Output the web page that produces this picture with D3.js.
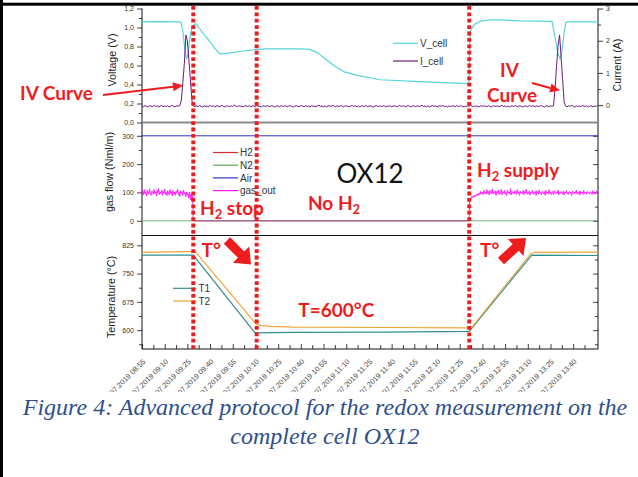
<!DOCTYPE html>
<html>
<head>
<meta charset="utf-8">
<title>OX12 redox protocol</title>
<script src="https://cdn.jsdelivr.net/npm/d3@7/dist/d3.min.js"></script>
<style>
  html, body { margin: 0; padding: 0; background: #fff; }
  svg { display: block; }
</style>
</head>
<body>
<svg id="fig" width="638" height="477"></svg>
<script>
// ---------- data: every series is indexed by minutes after 08:55 ----------
const startClock = [8, 55];
const endMinute = 301.4;

// x axis tick labels, one every 15 minutes
const xTickClock = ["08:55","09:10","09:25","09:40","09:55","10:10","10:25","10:40","10:55","11:10",
                    "11:25","11:40","11:55","12:10","12:25","12:40","12:55","13:10","13:25","13:40"];
const xTickDatePrefix = "07.2019 ";

// protocol events (minutes): H2 stop, end of cool-down, H2 supply again
const eventMinutes = [33.9, 75.8, 216.3];

// cell voltage [minute, V]
const vCell = [[0,1.06],[10,1.062],[20,1.06],[25.8,1.06],[27.1,0.95],[28.4,0.76],[29.5,0.67],[30.4,0.72],
  [31.7,0.9],[33,1.0],[34.4,1.03],[35.7,1.04],[37.5,1.0],[40.3,0.94],[44.9,0.85],[48.2,0.78],[50.9,0.73],
  [52.2,0.722],[60,0.735],[68,0.755],[75.3,0.768],[81.3,0.774],[104.4,0.775],[111,0.77],[116.3,0.73],
  [121,0.67],[127.6,0.59],[134.2,0.53],[144.1,0.49],[157.3,0.45],[183.7,0.43],[214.1,0.41],[216.1,0.41],
  [216.8,0.95],[219.4,1.03],[223.4,1.065],[230,1.08],[236.6,1.08],[249.8,1.07],[271,1.065],[273,0.9],
  [275,0.72],[276.3,0.67],[277.6,0.75],[279,0.95],[280.3,1.06],[301.4,1.06]];

// cell current [A], one sample per minute from minute 0
const iCell = [
  -0.03,-0.05,-0.01,-0.04,-0.06,-0.02,-0.03,-0.05,0.00,-0.04,-0.02,-0.06,-0.03,-0.01,-0.05,-0.03,-0.04,-0.02,-0.06,-0.03,
  -0.01,-0.04,-0.05,-0.02,-0.03,-0.02,
  0.15,0.7,1.3,2.18,2.0,1.4,0.8,0.15,
  -0.03,
  -0.04,-0.02,-0.05,-0.01,-0.03,-0.06,-0.02,-0.04,-0.03,-0.05,
  -0.01,-0.04,-0.02,-0.06,-0.03,-0.02,-0.05,-0.03,-0.01,-0.04,
  -0.06,-0.02,-0.03,-0.05,-0.02,-0.04,0.00,-0.03,-0.05,-0.02,
  -0.04,-0.03,-0.06,-0.01,-0.03,-0.04,-0.02,-0.05,-0.03,-0.02,
  -0.05,-0.01,-0.04,-0.03,-0.06,-0.02,-0.03,-0.04,-0.01,-0.05,
  -0.03,-0.02,-0.04,-0.06,-0.02,-0.03,-0.05,-0.01,-0.04,-0.03,
  -0.02,-0.05,-0.03,-0.01,-0.04,-0.06,-0.03,-0.02,-0.04,-0.05,
  -0.01,-0.03,-0.05,-0.02,-0.04,-0.03,-0.06,-0.02,-0.03,-0.04,
  -0.05,-0.02,-0.01,-0.04,-0.03,-0.05,-0.02,-0.06,-0.03,-0.02,
  -0.04,-0.01,-0.03,-0.05,-0.02,-0.04,-0.03,-0.01,-0.06,-0.03,
  -0.02,-0.04,-0.05,-0.03,-0.01,-0.04,-0.02,-0.05,-0.03,-0.06,
  -0.02,-0.03,-0.04,-0.01,-0.05,-0.03,-0.02,-0.04,-0.06,-0.03,
  -0.01,-0.05,-0.02,-0.04,-0.03,-0.02,-0.05,-0.03,-0.04,-0.01,
  -0.06,-0.03,-0.02,-0.04,-0.05,-0.01,-0.03,-0.04,-0.02,-0.05,
  -0.03,-0.01,-0.04,-0.06,-0.02,-0.03,-0.05,-0.02,-0.04,-0.03,
  -0.01,-0.04,-0.03,-0.05,-0.02,-0.06,-0.03,-0.01,-0.04,-0.02,
  -0.05,-0.03,-0.02,-0.04,-0.01,-0.05,-0.03,-0.06,-0.02,-0.04,
  -0.03,-0.02,-0.05,-0.01,-0.04,-0.03,-0.02,-0.06,-0.03,-0.05,
  -0.02,-0.04,-0.01,-0.03,-0.05,-0.02,-0.04,-0.03,-0.06,-0.01,
  -0.04,-0.02,-0.03,-0.05,-0.01,-0.04,-0.06,-0.02,-0.03,-0.04,
  -0.02,-0.05,-0.03,-0.01,-0.04,-0.02,-0.05,-0.03,-0.06,-0.02,
  -0.03,-0.04,-0.01,-0.05,-0.02,-0.03,-0.04,-0.06,-0.02,-0.03,
  -0.05,-0.01,-0.04,-0.02,-0.03,-0.05,-0.02,-0.04,-0.03,-0.01,
  -0.04,-0.06,-0.02,-0.03,-0.05,-0.02,-0.04,
  -0.02,
  0.5,1.2,1.85,2.18,1.5,0.8,0.1,
  -0.03,-0.05,-0.02,-0.04,-0.01,-0.03,-0.06,-0.02,-0.04,-0.03,-0.05,-0.01,-0.03,-0.04,-0.02,-0.06,
  -0.03,-0.02,-0.05,-0.03,-0.04,-0.02];

// gas flows [Nml/min]
const airFlow = [[0,300],[301.4,300]];
const n2Flow  = [[0,0],[301.4,0]];
const h2Flow  = [[33.9,0],[216.3,0]];
// outlet gas: 0.5-minute samples before H2 stop, zero while H2 is off, 0.5-minute samples after re-supply
const gasOutBefore = [
  98,106,91,110,95,102,87,108,99,93,113,96,90,105,101,94,110,95,103,88,
  107,97,114,92,101,95,109,90,104,97,111,93,100,89,106,99,92,110,96,103,
  88,107,95,101,90,105,98,112,92,100,86,106,97,103,89,108,94,99,85,102,
  91,96,80,101,74,95,70,88];
const gasOutOff = [[33.9,0],[216.3,0]];
const gasOutAfter = [
  72,80,78,86,82,88,84,91,86,93, 89,96,90,99,93,104,95,100,92,108,
  97,101,94,110,96,103,91,107,99,95, 112,94,101,97,106,90,104,98,109,93,
  100,96,111,92,103,99,107,94,101,89, 108,97,102,95,113,91,104,98,100,94,
  106,99,93,110,96,102,90,105,97,101, 95,108,92,103,98,111,94,100,96,105,
  91,102,99,107,93,100,97,104,89,106, 98,94,109,96,101,92,105,99,95,103,
  90,107,97,100,94,110,96,102,93,99, 104,91,106,98,95,101,97,108,92,100,
  96,103,99,94,105,91,102,98,107,95, 100,93,104,97,101,89,106,99,95,102,
  97,108,94,100,96,103,91,105,98,101, 93,107,96,99,102,94,104,97,100,95,
  103,98,92,106,99,101,94,97,105,96, 100];
const gasOutStepMin = 0.5;
const gasOutAfterStart = 216.5;

// temperatures [minute, °C]
const t1 = [[0,799],[33.9,799],[74.7,593],[100,594],[160,595],[216.3,597],[257.6,799],[301.4,798]];
const t2 = [[0,806],[30,808],[35.3,808],[75.5,616],[79,612],[85,610],[100,608],[160,607],[216.3,606],
            [218.5,610],[257.0,803],[259,806],[301.4,807]];

// ---------- layout ----------
const svg = d3.select("#fig");
const X0 = 142, X1 = 598;
const P = { v: [122.5, 8.5], g: [235.5, 122.5], t: [349, 235.5] };
const C = {
  vcell: "#55d4dc", icell: "#6b1a7a", h2: "#d42a2a", n2: "#5fa85f", air: "#2a35c8",
  gasout: "#ff10ff", t1: "#318e8e", t2: "#f2a43a", red: "#ee1c1c", axis: "#111", text: "#333"
};
const axisFont = "'Liberation Sans', Arial, sans-serif";
const noteFont = "Lato, 'Open Sans', sans-serif";

const base = new Date(2019, 6, 17, startClock[0], startClock[1]);
const at = m => new Date(base.getTime() + m * 60000);
const clock = s => { const [h, m] = s.split(":").map(Number); return (h - startClock[0]) * 60 + (m - startClock[1]); };

const x = d3.scaleTime().domain([at(0), at(endMinute)]).range([X0, X1]);
const yV = d3.scaleLinear().domain([0, 1.2]).range(P.v);
const yI = d3.scaleLinear().domain([-0.54, 3]).range(P.v);
const yG = d3.scaleLinear().domain([-52, 347]).range(P.g);
const yT = d3.scaleLinear().domain([550, 851]).range(P.t);

// frame of the figure
svg.append("rect").attr("x", 0).attr("y", 0).attr("width", 3).attr("height", 477).attr("fill", "#000");
svg.append("rect").attr("x", 0).attr("y", 2.7).attr("width", 638).attr("height", 3).attr("fill", "#000");

// clip paths for the three panels
const defs = svg.append("defs");
[["clipV", P.v], ["clipG", P.g], ["clipT", P.t]].forEach(([id, r]) => {
  defs.append("clipPath").attr("id", id).append("rect")
    .attr("x", X0).attr("y", r[1]).attr("width", X1 - X0).attr("height", r[0] - r[1]);
});
defs.append("clipPath").attr("id", "clipLbl").append("rect")
  .attr("x", 0).attr("y", 349).attr("width", 638).attr("height", 43);

// ---------- axes ----------
function styleAxis(g) {
  g.select(".domain").remove();
  g.selectAll(".tick line").attr("stroke", C.axis).attr("stroke-width", 0.8);
  g.selectAll(".tick text").attr("fill", C.text).attr("font-family", axisFont).attr("font-size", 7);
}
const comma1 = d => d3.format(".1f")(d).replace(".", ",");

// voltage (left, top panel)
svg.append("g").attr("transform", `translate(${X0},0)`)
  .call(d3.axisLeft(yV).tickValues([0, 0.2, 0.4, 0.6, 0.8, 1.0, 1.2]).tickSize(5).tickSizeOuter(0).tickPadding(3).tickFormat(comma1))
  .call(styleAxis);
svg.append("g").attr("transform", `translate(${X0},0)`)
  .call(d3.axisLeft(yV).tickValues([0.1, 0.3, 0.5, 0.7, 0.9, 1.1]).tickSize(3).tickSizeOuter(0).tickFormat(""))
  .call(styleAxis);
// current (right, top panel)
svg.append("g").attr("transform", `translate(${X1},0)`)
  .call(d3.axisRight(yI).tickValues([0, 1, 2, 3]).tickSize(5).tickSizeOuter(0).tickPadding(3).tickFormat(d3.format("d")))
  .call(styleAxis);
svg.append("g").attr("transform", `translate(${X1},0)`)
  .call(d3.axisRight(yI).tickValues([0.5, 1.5, 2.5]).tickSize(3).tickSizeOuter(0).tickFormat(""))
  .call(styleAxis);
// gas flow (left, mirrored inside on the right)
svg.append("g").attr("transform", `translate(${X0},0)`)
  .call(d3.axisLeft(yG).tickValues([0, 100, 200, 300]).tickSize(5).tickSizeOuter(0).tickPadding(3))
  .call(styleAxis);
svg.append("g").attr("transform", `translate(${X0},0)`)
  .call(d3.axisLeft(yG).tickValues([50, 150, 250]).tickSize(3).tickSizeOuter(0).tickFormat(""))
  .call(styleAxis);
svg.append("g").attr("transform", `translate(${X1},0)`)
  .call(d3.axisRight(yG).tickValues([0, 100, 200, 300]).tickSize(-5).tickSizeOuter(0).tickFormat(""))
  .call(styleAxis);
svg.append("g").attr("transform", `translate(${X1},0)`)
  .call(d3.axisRight(yG).tickValues([50, 150, 250]).tickSize(-3).tickSizeOuter(0).tickFormat(""))
  .call(styleAxis);
// temperature (left, mirrored inside on the right)
svg.append("g").attr("transform", `translate(${X0},0)`)
  .call(d3.axisLeft(yT).tickValues([600, 675, 750, 825]).tickSize(5).tickSizeOuter(0).tickPadding(3))
  .call(styleAxis);
svg.append("g").attr("transform", `translate(${X0},0)`)
  .call(d3.axisLeft(yT).tickValues([562.5, 637.5, 712.5, 787.5]).tickSize(3).tickSizeOuter(0).tickFormat(""))
  .call(styleAxis);
svg.append("g").attr("transform", `translate(${X1},0)`)
  .call(d3.axisRight(yT).tickValues([600, 675, 750, 825]).tickSize(-5).tickSizeOuter(0).tickFormat(""))
  .call(styleAxis);
svg.append("g").attr("transform", `translate(${X1},0)`)
  .call(d3.axisRight(yT).tickValues([562.5, 637.5, 712.5, 787.5]).tickSize(-3).tickSizeOuter(0).tickFormat(""))
  .call(styleAxis);

// time axis: ticks point up into the plot, labels rotated
const majorDates = xTickClock.map(s => at(clock(s)));
const minorDates = xTickClock.map(s => at(clock(s) + 7.5));
svg.append("g").attr("transform", `translate(0,${P.t[0]})`)
  .call(d3.axisBottom(x).tickValues(majorDates).tickSize(-5).tickSizeOuter(0).tickFormat(""))
  .call(styleAxis);
svg.append("g").attr("transform", `translate(0,${P.t[0]})`)
  .call(d3.axisBottom(x).tickValues(minorDates).tickSize(-4).tickSizeOuter(0).tickFormat(""))
  .call(styleAxis);
svg.append("g").attr("clip-path", "url(#clipLbl)")
  .selectAll("text").data(xTickClock).join("text")
  .attr("transform", s => `translate(${x(at(clock(s))) + 4},${P.t[0] + 13}) rotate(-45)`)
  .attr("text-anchor", "end").attr("font-family", axisFont).attr("font-size", 7.4).attr("fill", "#444")
  .text(s => xTickDatePrefix + s);

// panel frame lines
const frame = svg.append("g");
frame.append("line").attr("x1", X0).attr("x2", X0).attr("y1", P.v[1]).attr("y2", P.t[0]).attr("stroke", C.axis);
frame.append("line").attr("x1", X1).attr("x2", X1).attr("y1", P.v[1]).attr("y2", P.t[0]).attr("stroke", C.axis);
frame.append("line").attr("x1", X0).attr("x2", X1).attr("y1", P.t[0]).attr("y2", P.t[0]).attr("stroke", C.axis);
frame.append("line").attr("x1", X0).attr("x2", X1).attr("y1", P.g[0]).attr("y2", P.g[0]).attr("stroke", C.axis);
frame.append("line").attr("x1", X0).attr("x2", X1).attr("y1", P.v[0]).attr("y2", P.v[0]).attr("stroke", "#8a8a8a").attr("stroke-width", 2);

// axis titles
function vTitle(txt, cx, cy) {
  svg.append("text").attr("transform", `translate(${cx},${cy}) rotate(-90)`).attr("text-anchor", "middle")
    .attr("font-family", axisFont).attr("font-size", 10.7).attr("fill", "#222").text(txt);
}
vTitle("Voltage (V)", 116, 60);
vTitle("gas flow (Nml/m)", 113, 172);
vTitle("Temperature (°C)", 114.5, 297);
vTitle("Current (A)", 621, 65);

// ---------- series ----------
const lineOf = (y) => d3.line().x(d => x(at(d[0]))).y(d => y(d[1]));
function drawSeries(data, y, color, clip, w = 1, op = 1) {
  svg.append("path").attr("clip-path", `url(#${clip})`).attr("d", lineOf(y)(data))
    .attr("fill", "none").attr("stroke", color).attr("stroke-width", w).attr("stroke-opacity", op)
    .attr("stroke-linejoin", "round");
}
drawSeries(vCell, yV, C.vcell, "clipV", 1.2);
drawSeries(iCell.map((v, i) => [i, v]), yI, C.icell, "clipV", 1);

drawSeries(airFlow, yG, C.air, "clipG", 1);
drawSeries(h2Flow, yG, C.h2, "clipG", 1.2);
const gasOut = gasOutBefore.map((v, i) => [i * gasOutStepMin, v])
  .concat(gasOutOff, gasOutAfter.map((v, i) => [gasOutAfterStart + i * gasOutStepMin, v]));
drawSeries(gasOut, yG, C.gasout, "clipG", 0.9);
// N2 is drawn last and half transparent: where gas_out sits at zero the two blend
drawSeries(n2Flow, yG, C.n2, "clipG", 1.3, 0.55);

drawSeries(t1, yT, C.t1, "clipT", 1.2);
drawSeries(t2, yT, C.t2, "clipT", 1.2);

// ---------- legends ----------
function legend(items, x0, y0, dy, len) {
  items.forEach(([name, color], i) => {
    const yy = y0 + i * dy;
    svg.append("line").attr("x1", x0).attr("x2", x0 + len).attr("y1", yy).attr("y2", yy).attr("stroke", color).attr("stroke-width", 1.2);
    svg.append("text").attr("x", x0 + len + 2).attr("y", yy + 3.6).attr("font-family", axisFont)
      .attr("font-size", 10).attr("fill", "#333").text(name);
  });
}
legend([["V_cell", C.vcell], ["I_cell", C.icell]], 393, 43.3, 17.7, 25);
legend([["H2", C.h2], ["N2", C.n2], ["Air", C.air], ["gas_out", C.gasout]], 213, 152.5, 12.7, 25);
legend([["T1", C.t1], ["T2", C.t2]], 173, 288.3, 12.7, 23.5);

// ---------- protocol event markers ----------
svg.selectAll(".evt").data(eventMinutes).join("line").attr("class", "evt")
  .attr("x1", m => x(at(m))).attr("x2", m => x(at(m)))
  .attr("y1", 6).attr("y2", 351)
  .attr("stroke", C.red).attr("stroke-width", 4).attr("stroke-dasharray", "3.8,2.6");

// ---------- annotations ----------
function note(parts, x0, y0, size, opts = {}) {
  const t = svg.append("text").attr("x", x0).attr("y", y0).attr("font-family", noteFont)
    .attr("font-weight", opts.weight || 700).attr("font-size", size).attr("fill", opts.color || C.red);
  parts.forEach(p => {
    if (typeof p === "string") t.append("tspan").text(p);
    else t.append("tspan").attr("font-size", p.size).attr("dy", p.dy).text(p.t);
  });
  return t;
}
note(["IV Curve"], 20, 100, 19);
note(["IV"], 500, 77, 19);
note(["Curve"], 487, 101.7, 19);
note(["H", { t: "2", size: 13, dy: 4 }, { t: " stop", size: 19, dy: -4 }], 200, 214.5, 19);
note(["No H", { t: "2", size: 13, dy: 4 }], 308, 210, 19);
note(["H", { t: "2", size: 13, dy: 4 }, { t: " supply", size: 19, dy: -4 }], 477, 176.7, 19);
note(["OX12"], 336.5, 183.3, 26, { weight: 400, color: "#111" });
note(["T°"], 201.5, 256.7, 19);
note(["T°"], 480, 256.7, 19);
note(["T=600°C"], 298.3, 316.7, 19);

// thin arrows
function thinArrow(x1, y1, x2, y2) {
  const a = Math.atan2(y2 - y1, x2 - x1), hl = 10, hw = 4.5;
  const bx = x2 - hl * Math.cos(a), by = y2 - hl * Math.sin(a);
  svg.append("line").attr("x1", x1).attr("y1", y1).attr("x2", bx).attr("y2", by).attr("stroke", C.red).attr("stroke-width", 2);
  svg.append("path").attr("fill", C.red).attr("d",
    `M${x2},${y2}L${bx - hw * Math.sin(a)},${by + hw * Math.cos(a)}L${bx + hw * Math.sin(a)},${by - hw * Math.cos(a)}Z`);
}
thinArrow(103, 95, 183, 85.5);
thinArrow(532, 83, 560, 90.5);

// block arrows next to the temperature ramps
function blockArrow(tx, ty, px, py, w1, w2, hl) {
  const L = Math.hypot(px - tx, py - ty), ux = (px - tx) / L, uy = (py - ty) / L, nx = -uy, ny = ux;
  const bx = px - ux * hl, by = py - uy * hl;
  const pts = [[tx + nx * w1, ty + ny * w1], [bx + nx * w1, by + ny * w1], [bx + nx * w2, by + ny * w2], [px, py],
               [bx - nx * w2, by - ny * w2], [bx - nx * w1, by - ny * w1], [tx - nx * w1, ty - ny * w1]];
  svg.append("path").attr("fill", C.red).attr("d", "M" + pts.map(p => p.join(",")).join("L") + "Z");
}
blockArrow(227, 240.5, 251, 264.5, 4.5, 11.5, 14);
blockArrow(501, 261, 526, 238, 4.5, 11.5, 14);

// ---------- caption ----------
const cap = svg.append("g").attr("font-family", "'Liberation Serif', 'Times New Roman', serif")
  .attr("font-style", "italic").attr("font-size", 24).attr("fill", "#2e4f8c").attr("text-anchor", "middle");
cap.append("text").attr("x", 325).attr("y", 415).text("Figure 4: Advanced protocol for the redox measurement on the");
cap.append("text").attr("x", 325).attr("y", 444).text("complete cell OX12");
</script>
</body>
</html>
